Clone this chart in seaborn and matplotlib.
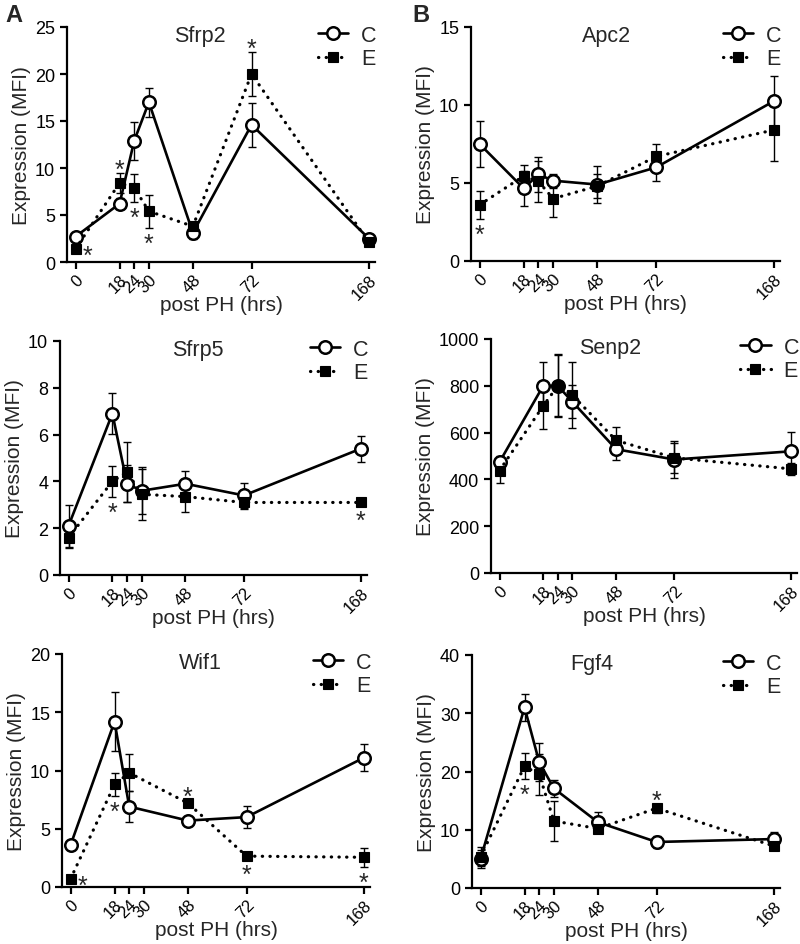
import numpy as np
import pandas as pd
import matplotlib
matplotlib.use("Agg")
import matplotlib.pyplot as plt
import seaborn as sns

# ---------------- data ----------------
times = [0, 18, 24, 30, 48, 72, 168]
tick_labels = ["0", "18", "24", "30", "48", "72", "168"]
nan = np.nan

sfrp2_c = [2.7, 6.2, 12.9, 17.0, 3.1, 14.6, 2.5]
sfrp2_c_err = [0.3, 0.6, 2.0, 1.55, 0.6, 2.35, 0.2]
sfrp2_e = [1.4, 8.4, 7.9, 5.4, 3.8, 20.0, 2.1]
sfrp2_e_err = [0.2, 1.1, 1.5, 1.75, 0.3, 2.35, 0.2]

apc2_c = [7.5, 4.65, 5.55, 5.15, 4.9, 6.0, 10.25]
apc2_c_err = [1.5, 1.1, 1.1, 0.45, 1.2, 0.85, 1.6]
apc2_e = [3.6, 5.45, 5.1, 4.0, 4.8, 6.7, 8.4]
apc2_e_err = [0.9, 0.7, 1.3, 1.2, 0.75, 0.8, 2.0]

sfrp5_c = [2.1, 6.9, 3.9, 3.6, 3.9, 3.4, 5.4]
sfrp5_c_err = [0.9, 0.87, 0.8, 1.0, 0.55, 0.55, 0.55]
sfrp5_e = [1.6, 4.0, 4.4, 3.45, 3.35, 3.1, 3.1]
sfrp5_e_err = [0.45, 0.65, 1.28, 1.1, 0.65, 0.3, 0.1]

senp2_c = [474, 800, 800, 732, 529, 485, 520]
senp2_c_err = [25, 100, 135, 70, 48, 78, 84]
senp2_e = [438, 714, 800, 760, 567, 492, 445]
senp2_e_err = [55, 97, 130, 140, 57, 65, 27]

wif1_c = [3.6, 14.2, 6.9, nan, 5.7, 6.0, 11.1]
wif1_c_err = [0.35, 2.55, 1.35, nan, 0.25, 0.95, 1.15]
wif1_e = [0.7, 8.8, 9.8, nan, 7.2, 2.65, 2.55]
wif1_e_err = [0.1, 0.95, 1.6, nan, 0.25, 0.2, 0.8]

fgf4_c = [5.0, 31.0, 21.6, 17.1, 11.3, 7.9, 8.4]
fgf4_c_err = [1.5, 2.3, 3.3, 1.5, 1.7, 1.1, 1.2]
fgf4_e = [5.4, 20.9, 19.5, 11.5, 10.2, 13.7, 7.2]
fgf4_e_err = [1.6, 2.2, 3.5, 3.5, 0.8, 0.8, 0.3]

genes = ["Sfrp2", "Apc2", "Sfrp5", "Senp2", "Wif1", "Fgf4"]
series = {
    "Sfrp2": (sfrp2_c, sfrp2_c_err, sfrp2_e, sfrp2_e_err),
    "Apc2": (apc2_c, apc2_c_err, apc2_e, apc2_e_err),
    "Sfrp5": (sfrp5_c, sfrp5_c_err, sfrp5_e, sfrp5_e_err),
    "Senp2": (senp2_c, senp2_c_err, senp2_e, senp2_e_err),
    "Wif1": (wif1_c, wif1_c_err, wif1_e, wif1_e_err),
    "Fgf4": (fgf4_c, fgf4_c_err, fgf4_e, fgf4_e_err),
}
y_ticks = {
    "Sfrp2": [0, 5, 10, 15, 20, 25],
    "Apc2": [0, 5, 10, 15],
    "Sfrp5": [0, 2, 4, 6, 8, 10],
    "Senp2": [0, 200, 400, 600, 800, 1000],
    "Wif1": [0, 5, 10, 15, 20],
    "Fgf4": [0, 10, 20, 30, 40],
}
# significance stars on E series: (time, position)
stars = {
    "Sfrp2": [(0, "right"), (18, "above"), (24, "below"), (30, "below"), (72, "above")],
    "Apc2": [(0, "below")],
    "Sfrp5": [(18, "below"), (168, "below")],
    "Senp2": [],
    "Wif1": [(0, "right"), (18, "below"), (48, "above"), (72, "below"), (168, "below")],
    "Fgf4": [(18, "below"), (72, "above")],
}

# ---------------- layout ----------------
W, H = 800, 945
boxes = {  # left, right, top, bottom in pixels
    "Sfrp2": (67, 375, 28, 263),
    "Apc2": (471, 780, 28, 262),
    "Sfrp5": (60, 367, 342, 576),
    "Senp2": (491, 797, 340, 574),
    "Wif1": (62, 370, 655, 888),
    "Fgf4": (472, 780, 656, 889),
}
title_x = {"Sfrp2": 0.43, "Apc2": 0.44, "Sfrp5": 0.45, "Senp2": 0.39, "Wif1": 0.45, "Fgf4": 0.39}

sns.set_style("ticks")
plt.rcParams["font.family"] = ["Liberation Sans", "DejaVu Sans"]
plt.rcParams["axes.linewidth"] = 1.6

def fwd(t):
    t = np.asarray(t, dtype=float)
    return np.where(t <= 72, t, 72 + (t - 72) / 2.0)

def inv(u):
    u = np.asarray(u, dtype=float)
    return np.where(u <= 72, u, 72 + (u - 72) * 2.0)

fig = plt.figure(figsize=(W / 100, H / 100), dpi=100)

PX = 0.72  # points per pixel at dpi 100

for gene in genes:
    x0, x1, yt, yb = boxes[gene]
    ax = fig.add_axes([x0 / W, 1 - yb / H, (x1 - x0) / W, (yb - yt) / H])
    c, ce, e, ee = series[gene]
    dc = pd.DataFrame({"time": times, "value": c, "err": ce}).dropna()
    de = pd.DataFrame({"time": times, "value": e, "err": ee}).dropna()

    ax.errorbar(dc["time"], dc["value"], yerr=dc["err"], fmt="none", ecolor="black",
                elinewidth=1.0, capsize=3, capthick=1.0, zorder=2, clip_on=False)
    ax.errorbar(de["time"], de["value"], yerr=de["err"], fmt="none", ecolor="black",
                elinewidth=1.0, capsize=3, capthick=1.0, zorder=2, clip_on=False)

    sns.lineplot(data=dc, x="time", y="value", ax=ax, color="black", errorbar=None,
                 label="C", marker="o", markersize=9, markerfacecolor="white",
                 markeredgecolor="black", markeredgewidth=1.8, linewidth=1.9,
                 zorder=3, clip_on=False)
    sns.lineplot(data=de, x="time", y="value", ax=ax, color="black", errorbar=None,
                 label="E", marker="s", markersize=7, markerfacecolor="black",
                 markeredgecolor="black", markeredgewidth=0.8, linewidth=2.3,
                 linestyle=(0, (0.1, 2.3)), dash_capstyle="round",
                 zorder=4, clip_on=False)

    ax.set_xscale("function", functions=(fwd, inv))
    ax.set_xlim(-3.5, 173)
    ax.set_xticks(times)
    ax.set_xticklabels(tick_labels, rotation=45, ha="right", rotation_mode="anchor")
    ax.set_xticks([], minor=True)
    yt_list = y_ticks[gene]
    ax.set_ylim(yt_list[0], yt_list[-1])
    ax.set_yticks(yt_list)
    ax.set_yticklabels([str(v) for v in yt_list])

    ax.tick_params(axis="both", direction="out", length=5, width=1.6,
                   color="black", labelcolor="black")
    ax.tick_params(axis="y", labelsize=13)
    ax.tick_params(axis="x", labelsize=12, pad=2)
    sns.despine(ax=ax)
    for s in ("left", "bottom"):
        ax.spines[s].set_linewidth(1.6)
        ax.spines[s].set_color("black")

    ax.set_xlabel("post PH (hrs)", fontsize=15, labelpad=-5)
    ax.set_ylabel("Expression (MFI)", fontsize=15, labelpad=3)
    ax.text(title_x[gene], 0.965, gene, transform=ax.transAxes, ha="center",
            va="center", fontsize=15.5)

    ax.legend(loc="upper left", bbox_to_anchor=(0.815, 1.01), frameon=False,
              handlelength=1.4, handletextpad=0.6, labelspacing=0.12,
              borderpad=0, borderaxespad=0, fontsize=15.5, numpoints=1)

    # asterisks (glyph centre placed ~8 px beyond error bar end)
    glyph_c = 13.0  # px from baseline to visual centre of '*'
    for t, pos in stars[gene]:
        i = times.index(t)
        v, er = e[i], ee[i]
        if pos == "above":
            xy, dx, dy = (t, v + er), 0, 9
        elif pos == "below":
            xy, dx, dy = (t, v - er), 0, -10
        else:
            xy, dx, dy = (t, v), 12, -1
        ax.annotate("*", xy=xy, xytext=(dx * PX, (dy - glyph_c) * PX),
                    textcoords="offset points", ha="center", va="baseline",
                    fontsize=18, annotation_clip=False)

fig.text(5 / W, 1 - 4 / H, "A", fontsize=17, fontweight="bold", ha="left", va="top")
fig.text(412 / W, 1 - 4 / H, "B", fontsize=17, fontweight="bold", ha="left", va="top")

fig.savefig("out.png", dpi=100)
